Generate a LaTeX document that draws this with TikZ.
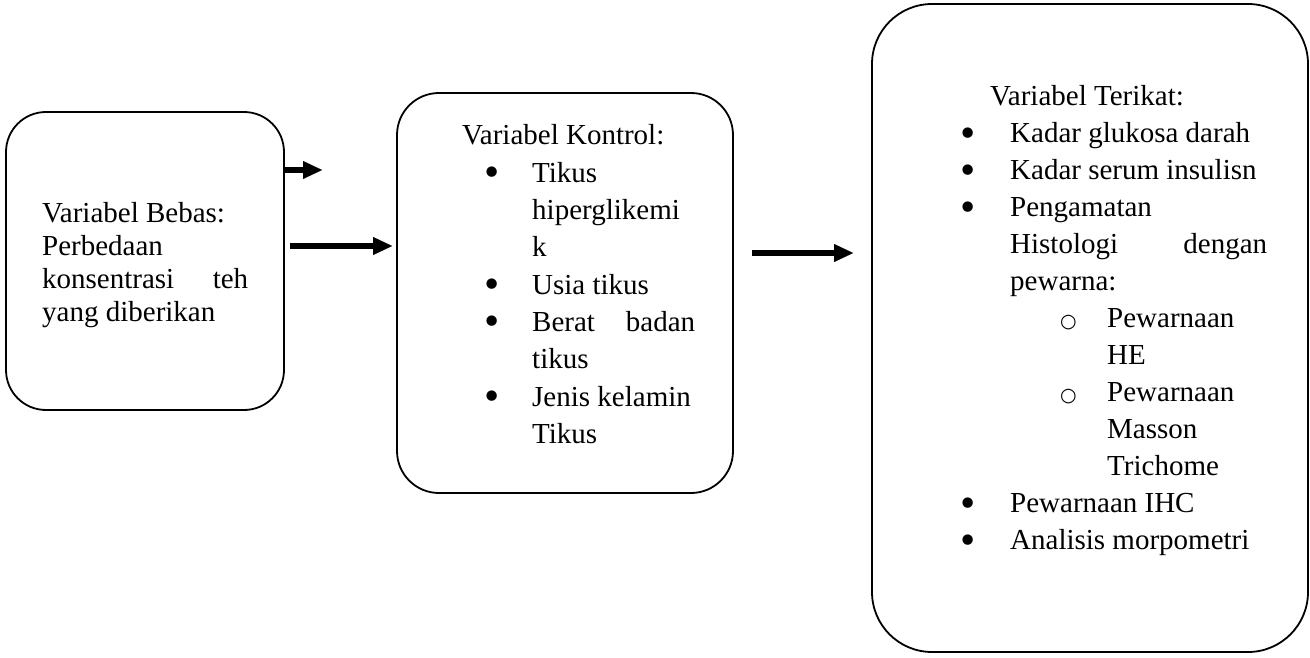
\documentclass[tikz,border=0pt]{standalone}
\usepackage{fontspec}
\setmainfont{Liberation Serif}
\newfontfamily\symfont{DejaVu Sans}
\usetikzlibrary{arrows.meta}
\tolerance=10000
\hbadness=10000
\hyphenpenalty=10000
\exhyphenpenalty=10000
\newcommand{\bulitem}[3]{\par\hangindent=#2\hangafter=1\noindent\makebox[#2][l]{\hspace*{#1}\raisebox{-4.4pt}{\scalebox{1.5}{\textbullet}}}#3\par}
\newcommand{\circitem}[3]{\par\hangindent=#2\hangafter=1\noindent\makebox[#2][l]{\hspace*{#1}{\symfont\fontsize{19}{19}\selectfont ○}}#3\par}
\begin{document}
\begin{tikzpicture}[x=1pt,y=1pt,yscale=-1,
        varbox/.style={draw,line width=1.8pt,inner sep=0pt},
        vartext/.style={anchor=base west,inner sep=0pt,align=justify,font=\fontsize{29}{37}\selectfont},
        flowarrow/.style={line width=6pt,-{Triangle[length=19pt,width=18pt,line width=0.1pt]}}]
    \useasboundingbox (0,0) rectangle (1310,658);

    % Boxes
    \node[varbox,minimum width=278pt,minimum height=298pt,rounded corners=40pt] (bebas) at (145,261) {};
    \node[varbox,minimum width=336pt,minimum height=400pt,rounded corners=42pt] (kontrol) at (565,293) {};
    \node[varbox,minimum width=436pt,minimum height=648pt,rounded corners=60pt] (terikat) at (1090,328) {};

    % Text Node
    \node[vartext,text width=206pt,font=\fontsize{29}{33}\selectfont] (bebastext) at (42,222.7)
        {Variabel Bebas:\newline Perbedaan\newline konsentrasi teh\linebreak yang diberikan\par};
    % Text Node
    \node[vartext,text width=233pt,font=\fontsize{29}{37.3}\selectfont] (kontroltext) at (462,145)
        {Variabel Kontrol:
        \bulitem{22.5pt}{70pt}{Tikus\newline hiperglikemi\newline k}
        \bulitem{22.5pt}{70pt}{Usia tikus}
        \bulitem{22.5pt}{70pt}{Berat badan\linebreak tikus}
        \bulitem{22.5pt}{70pt}{Jenis kelamin\newline Tikus}};
    % Text Node
    \node[vartext,text width=309pt] (terikattext) at (958,106)
        {\hspace*{32pt}Variabel Terikat:
        \bulitem{2.5pt}{52pt}{Kadar glukosa darah}
        \bulitem{2.5pt}{52pt}{Kadar serum insulisn}
        \bulitem{2.5pt}{52pt}{Pengamatan\newline Histologi dengan\linebreak pewarna:}
        \circitem{102pt}{149pt}{Pewarnaan\newline HE}
        \circitem{102pt}{149pt}{Pewarnaan\newline Masson\newline Trichome}
        \bulitem{2.5pt}{52pt}{Pewarnaan IHC}
        \bulitem{2.5pt}{52pt}{Analisis morpometri}};

    % Arrows
    \coordinate (tip1) at (322,170);
    \draw[flowarrow] ([yshift=-91pt]bebas.east) -- (tip1);
    \draw[flowarrow] ([xshift=5pt,yshift=-15pt]bebas.east) -- ([xshift=-4pt,yshift=-47pt]kontrol.west);
    \draw[flowarrow] ([xshift=18pt,yshift=-40pt]kontrol.east) -- ([xshift=-18pt,yshift=-75pt]terikat.west);
\end{tikzpicture}
\end{document}
